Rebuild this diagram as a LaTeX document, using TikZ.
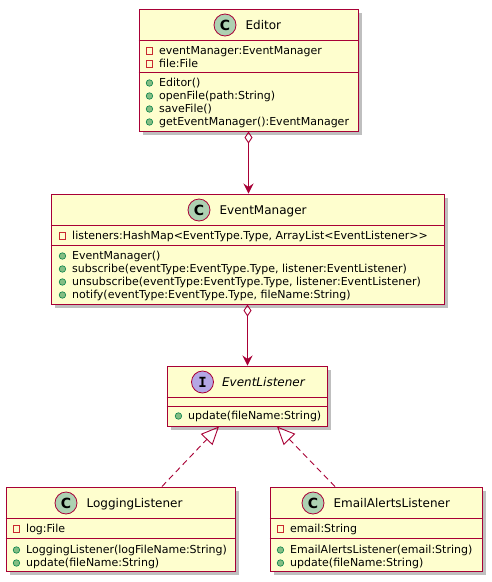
\documentclass[tikz,border=0pt]{standalone}
\usepackage{fontspec}
\setmainfont{DejaVu Sans}
\newfontfamily\monofont{DejaVu Sans Mono}
\usetikzlibrary{arrows.meta,positioning,shadows}

\definecolor{umlfill}{HTML}{FEFECE}
\definecolor{umlline}{HTML}{A80036}
\definecolor{classdot}{HTML}{ADD1B2}
\definecolor{ifacedot}{HTML}{B4A7E5}
\definecolor{privred}{HTML}{C82930}
\definecolor{pubfill}{HTML}{84BE84}
\definecolor{publine}{HTML}{038048}

\begin{document}
\begin{tikzpicture}[x=1pt, y=-1pt, >=Stealth,
  box/.style={draw=umlline, fill=umlfill, line width=1pt, inner sep=0pt,
    drop shadow={shadow xshift=4pt, shadow yshift=-4pt, opacity=0.25, fill=black}},
  sep/.style={umlline, line width=0.8pt},
  badge/.style={circle, draw=umlline, line width=0.8pt, minimum size=22pt, inner sep=0pt},
  cname/.style={inner sep=0pt, text height=8.8pt, text depth=0pt, font=\fontsize{12}{14}\selectfont},
  member/.style={inner sep=0pt, anchor=west, text height=7pt, text depth=0pt, font=\fontsize{11}{13}\selectfont},
  priv/.style={draw=privred, line width=0.8pt, minimum size=6.5pt, inner sep=0pt},
  pub/.style={circle, draw=publine, fill=pubfill, line width=0.6pt, minimum size=6.5pt, inner sep=0pt},
  aggr/.style={umlline, line width=0.9pt, {Diamond[open, length=12pt, width=8pt]}-{Stealth[length=10pt, width=10pt, inset=3.5pt]}},
  impl/.style={umlline, line width=0.9pt, dash pattern=on 6pt off 4pt, -{Triangle[open, length=18pt, width=16pt]}}]

\path[fill=white] (0,0) rectangle (491,582);

% class boxes
\node[box, minimum width=219pt, minimum height=122pt] (editor) at (248.5,70) {};
\node[box, minimum width=393pt, minimum height=110pt] (em) at (247.5,249) {};
\node[box, minimum width=160pt, minimum height=60pt] (el) at (247,396) {};
\node[box, minimum width=229pt, minimum height=84pt] (ll) at (120.5,529) {};
\node[box, minimum width=212pt, minimum height=84pt] (ea) at (376,529) {};

\draw[sep] ([yshift=-32pt]editor.north west) -- ([yshift=-32pt]editor.north east);
\draw[sep] ([yshift=-64pt]editor.north west) -- ([yshift=-64pt]editor.north east);
\draw[sep] ([yshift=-32pt]em.north west) -- ([yshift=-32pt]em.north east);
\draw[sep] ([yshift=-52pt]em.north west) -- ([yshift=-52pt]em.north east);
\draw[sep] ([yshift=-32pt]el.north west) -- ([yshift=-32pt]el.north east);
\draw[sep] ([yshift=-41pt]el.north west) -- ([yshift=-41pt]el.north east);
\draw[sep] ([yshift=-32pt]ll.north west) -- ([yshift=-32pt]ll.north east);
\draw[sep] ([yshift=-52pt]ll.north west) -- ([yshift=-52pt]ll.north east);
\draw[sep] ([yshift=-32pt]ea.north west) -- ([yshift=-32pt]ea.north east);
\draw[sep] ([yshift=-52pt]ea.north west) -- ([yshift=-52pt]ea.north east);

% headers
\node[badge, fill=classdot, font=\bfseries\fontsize{14}{14}\selectfont] (ed-c) at (225,25) {C};
\node[cname, right=9pt of ed-c] (ed-name) {Editor};
\node[badge, fill=classdot, font=\bfseries\fontsize{14}{14}\selectfont] (em-c) at (199,210) {C};
\node[cname, right=9pt of em-c] (em-name) {EventManager};
\node[badge, fill=ifacedot, font=\monofont\bfseries\fontsize{14}{14}\selectfont] (el-c) at (202.5,382) {I};
\node[cname, right=8pt of el-c, font=\itshape\fontsize{12}{14}\selectfont] (el-name) {EventListener};
\node[badge, fill=classdot, font=\bfseries\fontsize{14}{14}\selectfont] (ll-c) at (66,503) {C};
\node[cname, right=9pt of ll-c] (ll-name) {LoggingListener};
\node[badge, fill=classdot, font=\bfseries\fontsize{14}{14}\selectfont] (ea-c) at (313,503) {C};
\node[cname, right=9pt of ea-c] (ea-name) {EmailAlertsListener};

% Editor members
\node[member] (ed-a1) at (159,51) {eventManager:EventManager};
\node[member] (ed-a2) at (159,64) {file:File};
\node[member] (ed-m1) at (159,83) {Editor()};
\node[member] (ed-m2) at (159,96) {openFile(path:String)};
\node[member] (ed-m3) at (159,109) {saveFile()};
\node[member] (ed-m4) at (159,122) {getEventManager():EventManager};
\node[priv, left=6pt of ed-a1] (ed-v1) {};
\node[priv, left=6pt of ed-a2] (ed-v2) {};
\node[pub, left=6pt of ed-m1] (ed-v3) {};
\node[pub, left=6pt of ed-m2] (ed-v4) {};
\node[pub, left=6pt of ed-m3] (ed-v5) {};
\node[pub, left=6pt of ed-m4] (ed-v6) {};

% EventManager members
\node[member] (em-a1) at (72,236) {listeners:HashMap<EventType.Type, ArrayList<EventListener>{}>};
\node[member] (em-m1) at (72,256) {EventManager()};
\node[member] (em-m2) at (72,269) {subscribe(eventType:EventType.Type, listener:EventListener)};
\node[member] (em-m3) at (72,282) {unsubscribe(eventType:EventType.Type, listener:EventListener)};
\node[member] (em-m4) at (72,295) {notify(eventType:EventType.Type, fileName:String)};
\node[priv, left=6pt of em-a1] (em-v1) {};
\node[pub, left=6pt of em-m1] (em-v2) {};
\node[pub, left=6pt of em-m2] (em-v3) {};
\node[pub, left=6pt of em-m3] (em-v4) {};
\node[pub, left=6pt of em-m4] (em-v5) {};

% EventListener members
\node[member] (el-m1) at (188,416) {update(fileName:String)};
\node[pub, left=6pt of el-m1] (el-v1) {};

% LoggingListener members
\node[member] (ll-a1) at (26,529) {log:File};
\node[member] (ll-m1) at (26,550) {LoggingListener(logFileName:String)};
\node[member] (ll-m2) at (26,563) {update(fileName:String)};
\node[priv, left=6pt of ll-a1] (ll-v1) {};
\node[pub, left=6pt of ll-m1] (ll-v2) {};
\node[pub, left=6pt of ll-m2] (ll-v3) {};

% EmailAlertsListener members
\node[member] (ea-a1) at (290,529) {email:String};
\node[member] (ea-m1) at (290,550) {EmailAlertsListener(email:String)};
\node[member] (ea-m2) at (290,563) {update(fileName:String)};
\node[priv, left=6pt of ea-a1] (ea-v1) {};
\node[pub, left=6pt of ea-m1] (ea-v2) {};
\node[pub, left=6pt of ea-m2] (ea-v3) {};

% relations
\draw[aggr] (editor.south) -- (editor.south |- em.north);
\draw[aggr] (em.south) -- (em.south |- el.north);
\draw[impl] ([xshift=41.5pt]ll.north) -- ([xshift=-28pt]el.south);
\draw[impl] ([xshift=-41pt]ea.north) -- ([xshift=30pt]el.south);
\end{tikzpicture}
\end{document}
